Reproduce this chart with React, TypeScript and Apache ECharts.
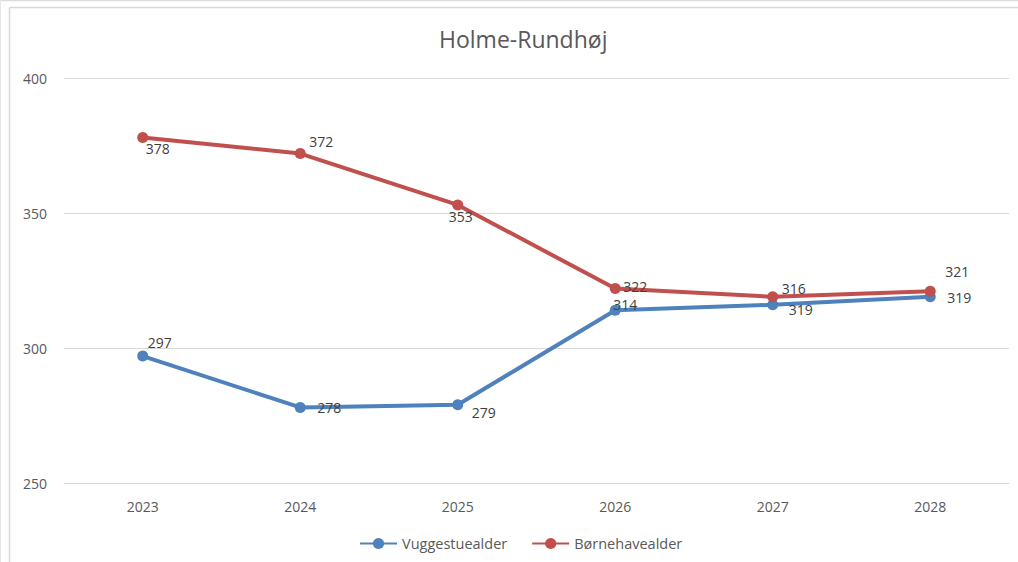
import React, { useEffect, useRef } from "react";
import * as echarts from "echarts";

const years = ["2023", "2024", "2025", "2026", "2027", "2028"];
const vuggeValues = [297, 278, 279, 314, 316, 319];
const boerneValues = [378, 372, 353, 322, 319, 321];
const vuggeLabels = ["297", "278", "279", "314", "319", "319"];
const boerneLabels = ["378", "372", "353", "322", "316", "321"];
const vuggeOffsets: [number, number][] = [[17, -14], [29, 0], [26, 8], [10, -6], [28, 5], [29, 1]];
const boerneOffsets: [number, number][] = [[15, 11], [21, -12], [3, 12], [20, -2], [21, -8], [27, -20]];

const FONT = "'Open Sans', 'Noto Sans', sans-serif";

function buildData(values: number[], labels: string[], offsets: [number, number][]) {
  return values.map((v, i) => ({
    value: v,
    label: {
      show: true,
      position: "inside",
      offset: offsets[i],
      formatter: labels[i],
    },
  }));
}

export default function App() {
  const ref = useRef<HTMLDivElement>(null);
  useEffect(() => {
    if (!ref.current) return;
    const chart = echarts.init(ref.current, undefined, { renderer: "svg" });
    chart.setOption({
      animation: false,
      backgroundColor: "#ffffff",
      textStyle: { fontFamily: FONT },
      title: {
        text: "Holme-Rundhøj",
        left: 434,
        top: 22,
        textStyle: { fontFamily: FONT, fontSize: 23, fontWeight: "normal", color: "#595959" },
      },
      graphic: [
        { type: "line", shape: { x1: 0, y1: 0.5, x2: 1018, y2: 0.5 }, style: { stroke: "#dcdcdc", lineWidth: 1.5 }, silent: true },
        { type: "line", shape: { x1: 0.5, y1: 0, x2: 0.5, y2: 562 }, style: { stroke: "#e6e6e6", lineWidth: 1 }, silent: true },
        { type: "line", shape: { x1: 9.5, y1: 7.5, x2: 1018, y2: 7.5 }, style: { stroke: "#d9d9d9", lineWidth: 1.5 }, silent: true },
        { type: "line", shape: { x1: 9.5, y1: 7.5, x2: 9.5, y2: 562 }, style: { stroke: "#d9d9d9", lineWidth: 1.5 }, silent: true },
      ],
      grid: { left: 64, right: 9, top: 78, bottom: 79, containLabel: false },
      legend: {
        bottom: 6,
        left: 354,
        itemWidth: 37,
        itemHeight: 14,
        itemGap: 24,
        textStyle: { fontFamily: FONT, fontSize: 14.5, color: "#595959" },
        data: ["Vuggestuealder", "Børnehavealder"],
      },
      xAxis: {
        type: "category",
        data: years,
        boundaryGap: true,
        axisLine: { show: true, lineStyle: { color: "#d9d9d9", width: 1 } },
        axisTick: { show: false },
        axisLabel: { color: "#595959", fontSize: 14, margin: 16, fontFamily: FONT },
      },
      yAxis: {
        type: "value",
        min: 250,
        max: 400,
        interval: 50,
        axisLine: { show: false },
        axisTick: { show: false },
        splitLine: { lineStyle: { color: "#d9d9d9", width: 1 } },
        axisLabel: { color: "#595959", fontSize: 14, margin: 17, fontFamily: FONT },
      },
      series: [
        {
          name: "Vuggestuealder",
          type: "line",
          data: buildData(vuggeValues, vuggeLabels, vuggeOffsets),
          symbol: "circle",
          symbolSize: 11,
          lineStyle: { color: "#4f81bd", width: 4 },
          itemStyle: { color: "#4f81bd" },
          label: { color: "#404040", fontSize: 14, fontFamily: FONT },
          z: 3,
        },
        {
          name: "Børnehavealder",
          type: "line",
          data: buildData(boerneValues, boerneLabels, boerneOffsets),
          symbol: "circle",
          symbolSize: 11,
          lineStyle: { color: "#c0504d", width: 4 },
          itemStyle: { color: "#c0504d" },
          label: { color: "#404040", fontSize: 14, fontFamily: FONT },
          z: 4,
        },
      ],
    });
    return () => chart.dispose();
  }, []);
  return (
    <div style={{ position: "fixed", left: 0, top: 0, width: 1018, height: 562, background: "#fff" }}>
      <div ref={ref} style={{ width: 1018, height: 562 }} />
    </div>
  );
}
